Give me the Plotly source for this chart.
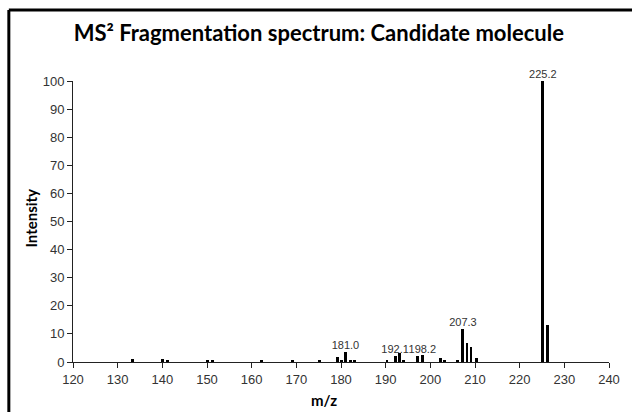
import plotly.graph_objects as go

# m/z values and relative intensities of fragment peaks
mz = [133.3, 140.0, 141.2, 150.1, 151.3, 162.1, 169.2, 175.2,
      179.2, 180.1, 181.0, 182.2, 183.0,
      190.3, 192.1, 193.1, 194.0, 197.2, 198.2,
      202.3, 203.2, 206.1, 207.3, 208.2, 209.1, 210.4,
      225.2, 226.2]
intensity = [1.0, 1.0, 0.7, 0.6, 0.8, 0.5, 0.5, 0.4,
             1.8, 0.8, 3.7, 0.6, 0.6,
             0.7, 2.3, 3.2, 0.7, 2.0, 2.4,
             1.5, 0.7, 0.4, 11.7, 6.6, 5.2, 1.3,
             100.0, 13.3]

# labelled peaks
label_mz = [181.0, 192.1, 198.2, 207.3, 225.2]
label_int = [3.7, 2.3, 2.4, 11.7, 100.0]
label_text = ["181.0", "192.1", "198.2", "207.3", "225.2"]

x_ticks = [120, 130, 140, 150, 160, 170, 180, 190, 200, 210, 220, 230, 240]
y_ticks = [0, 10, 20, 30, 40, 50, 60, 70, 80, 90, 100]

fig = go.Figure()
fig.add_trace(go.Bar(x=mz, y=intensity, width=0.65,
                     marker=dict(color="black", line=dict(width=0)),
                     showlegend=False))
fig.add_trace(go.Scatter(x=label_mz, y=label_int, mode="text", text=label_text,
                         textposition="top center",
                         textfont=dict(family="Liberation Sans", size=11, color="#333"),
                         showlegend=False, cliponaxis=False))

W, H = 632, 412
L, R, T, B = 73, 16, 81, 50
pw = W - L - R
ph = H - T - B

def px(xp):
    return (xp - L) / pw

def py(yp):
    return (H - B - yp) / ph

axis_common = dict(showgrid=False, zeroline=False, showline=True, linecolor="#222",
                   linewidth=1, ticks="outside", ticklen=5, tickcolor="#222",
                   tickfont=dict(family="Liberation Sans", size=13, color="#333"))

fig.update_layout(
    width=W, height=H,
    margin=dict(l=L, r=R, t=T, b=B),
    paper_bgcolor="white", plot_bgcolor="white",
    bargap=0,
    title=dict(text="MS² Fragmentation spectrum: Candidate molecule",
               x=px(322), xanchor="center", xref="paper",
               y=1 - 33 / H, yanchor="middle",
               font=dict(family="Lato", size=22, color="black", weight="bold")),
    xaxis=dict(range=[120, 240], tickvals=x_ticks, **axis_common),
    yaxis=dict(range=[0, 100], tickvals=y_ticks, **axis_common),
    shapes=[
        dict(type="line", xref="paper", yref="paper", x0=px(8), x1=px(640),
             y0=py(10), y1=py(10), line=dict(color="black", width=3)),
        dict(type="line", xref="paper", yref="paper", x0=px(8), x1=px(8),
             y0=py(10), y1=py(420), line=dict(color="black", width=3)),
    ],
    annotations=[
        dict(text="Intensity", xref="paper", yref="paper", x=px(30), y=py(218),
             xanchor="center", yanchor="middle", textangle=-90, showarrow=False,
             font=dict(family="Lato", size=15, color="black", weight="bold")),
        dict(text="m/z", xref="paper", yref="paper", x=px(327), y=py(400),
             xanchor="center", yanchor="middle", showarrow=False,
             font=dict(family="Lato", size=15, color="black", weight="bold")),
    ],
)

fig.write_html("out.html")
